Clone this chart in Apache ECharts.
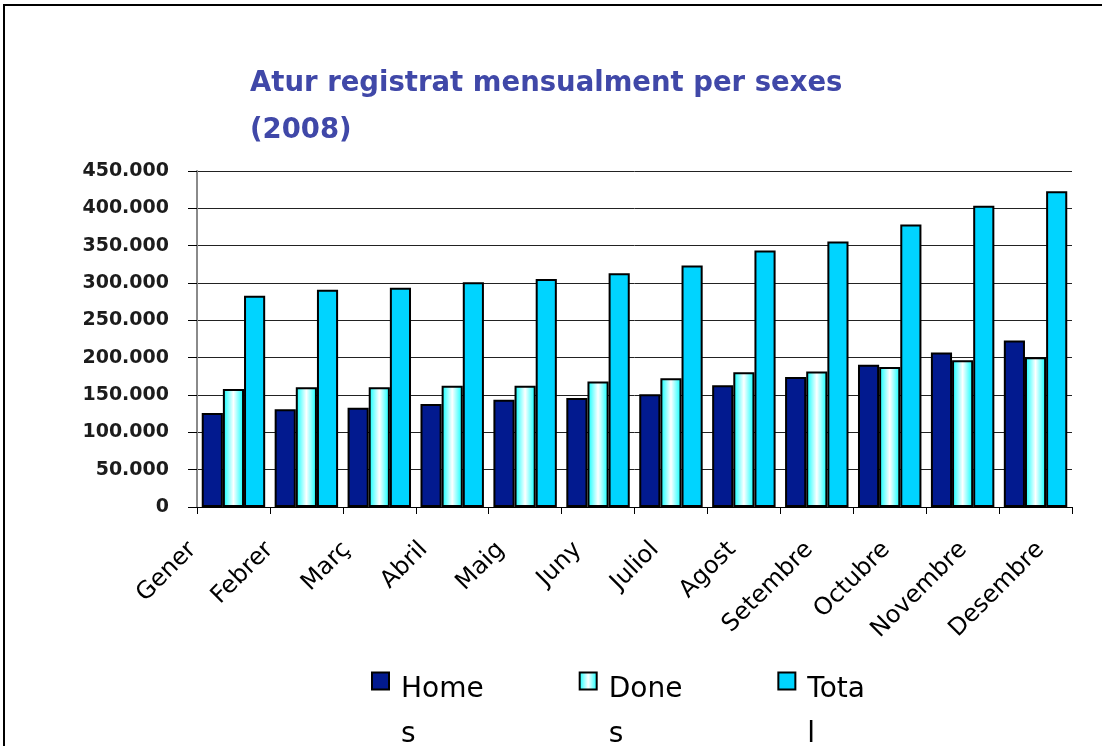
<!DOCTYPE html>
<html>
<head>
<meta charset="utf-8">
<script src="https://cdn.jsdelivr.net/npm/echarts@6/dist/echarts.min.js"></script>
<style>
  html, body { margin: 0; padding: 0; background: #fff; overflow: hidden; }
  #chart { position: absolute; left: 0; top: 0; width: 1102px; height: 746px; }
</style>
</head>
<body>
<div id="chart"></div>
<script>
// mesos
const months = ['Gener', 'Febrer', 'Març', 'Abril', 'Maig', 'Juny', 'Juliol', 'Agost', 'Setembre', 'Octubre', 'Novembre', 'Desembre'];

// valors llegits del gràfic
const homes = [126000, 131000, 133000, 138000, 143500, 146000, 151000, 163000, 174000, 190500, 207000, 223000];
const dones = [158000, 160500, 160500, 162500, 162500, 168000, 172500, 180500, 181500, 187500, 196500, 200500];
const total = [283000, 291000, 293500, 301000, 305500, 313000, 323500, 343500, 355500, 378500, 403500, 423000];

const yMax = 450000;
const yStep = 50000;

const chart = echarts.init(document.getElementById('chart'), null, { renderer: 'canvas' });

function fmtThousands(v) {
  return String(v).replace(/\B(?=(\d{3})+(?!\d))/g, '.');
}

// quadrat de la llegenda a dalt, amb el text de dues línies a sota
const legendIcon = 'path://M0,0H17V17H0Z M0,79';

const barBorder = { borderColor: '#000', borderWidth: 2 };

var option = {
  animation: false,
  backgroundColor: '#fff',
  // marc de la diapositiva (només a dalt i a l'esquerra)
  graphic: [
    { type: 'polyline', silent: true, shape: { points: [[4, 760], [4, 5], [1110, 5]] },
      style: { stroke: '#000', lineWidth: 2, fill: null } }
  ],
  title: {
    text: 'Atur registrat mensualment per sexes\n(2008)',
    left: 245,
    top: 55,
    textStyle: {
      fontFamily: 'DejaVu Sans',
      fontWeight: 'bold',
      fontSize: 27.5,
      lineHeight: 47,
      color: '#4048a8'
    }
  },
  legend: {
    data: ['Homes', 'Dones', 'Total'],
    orient: 'horizontal',
    left: 371,
    top: 667,
    padding: 0,
    itemWidth: 17,
    itemHeight: 79,
    itemGap: 95,
    icon: legendIcon,
    formatter: function (name) {
      return name.slice(0, 4) + '\n' + name.slice(4);
    },
    textStyle: {
      fontFamily: 'DejaVu Sans',
      fontSize: 28,
      lineHeight: 45,
      color: '#000',
      padding: [0, 0, 0, 7]
    }
  },
  grid: [
    { left: 197, right: 30, top: 171, bottom: 239 },
    // només per a les etiquetes dels mesos
    { left: 154, right: 23, top: 171, bottom: 239 }
  ],
  xAxis: [
    {
      type: 'category',
      gridIndex: 0,
      data: months,
      axisLine: { lineStyle: { color: '#000', width: 1 } },
      axisTick: { show: true, length: 7, lineStyle: { color: '#000' } },
      axisLabel: { show: false }
    },
    {
      type: 'category',
      gridIndex: 1,
      data: months,
      axisLine: { show: false },
      axisTick: { show: false },
      axisLabel: {
        rotate: 45,
        margin: 39,
        interval: 0,
        fontFamily: 'DejaVu Sans',
        fontSize: 24,
        color: '#000'
      }
    }
  ],
  yAxis: [
    {
      type: 'value',
      gridIndex: 0,
      min: 0,
      max: yMax,
      interval: yStep,
      axisLine: { show: true, lineStyle: { color: '#8a8a8a', width: 2 } },
      axisTick: { show: true, length: 9, lineStyle: { color: '#000' } },
      splitLine: { show: true, lineStyle: { color: '#222', width: 1 } },
      axisLabel: {
        margin: 28,
        fontFamily: 'DejaVu Sans',
        fontWeight: 'bold',
        fontSize: 19,
        color: '#1c1c1c',
        formatter: fmtThousands
      }
    },
    {
      type: 'value',
      gridIndex: 1,
      show: false
    }
  ],
  series: [
    {
      name: 'Homes',
      type: 'bar',
      xAxisIndex: 0,
      yAxisIndex: 0,
      data: homes,
      barGap: '0%',
      barCategoryGap: '13%',
      itemStyle: Object.assign({ color: '#021a8f' }, barBorder)
    },
    {
      name: 'Dones',
      type: 'bar',
      xAxisIndex: 0,
      yAxisIndex: 0,
      data: dones,
      barGap: '0%',
      barCategoryGap: '13%',
      itemStyle: Object.assign({
        color: new echarts.graphic.LinearGradient(0, 0, 1, 0, [
          { offset: 0, color: '#00ffff' },
          { offset: 0.5, color: '#ffffff' },
          { offset: 1, color: '#00ffff' }
        ])
      }, barBorder)
    },
    {
      name: 'Total',
      type: 'bar',
      xAxisIndex: 0,
      yAxisIndex: 0,
      data: total,
      barGap: '0%',
      barCategoryGap: '13%',
      itemStyle: Object.assign({ color: '#00d4ff' }, barBorder)
    }
  ]
};

chart.setOption(option);
</script>
</body>
</html>
